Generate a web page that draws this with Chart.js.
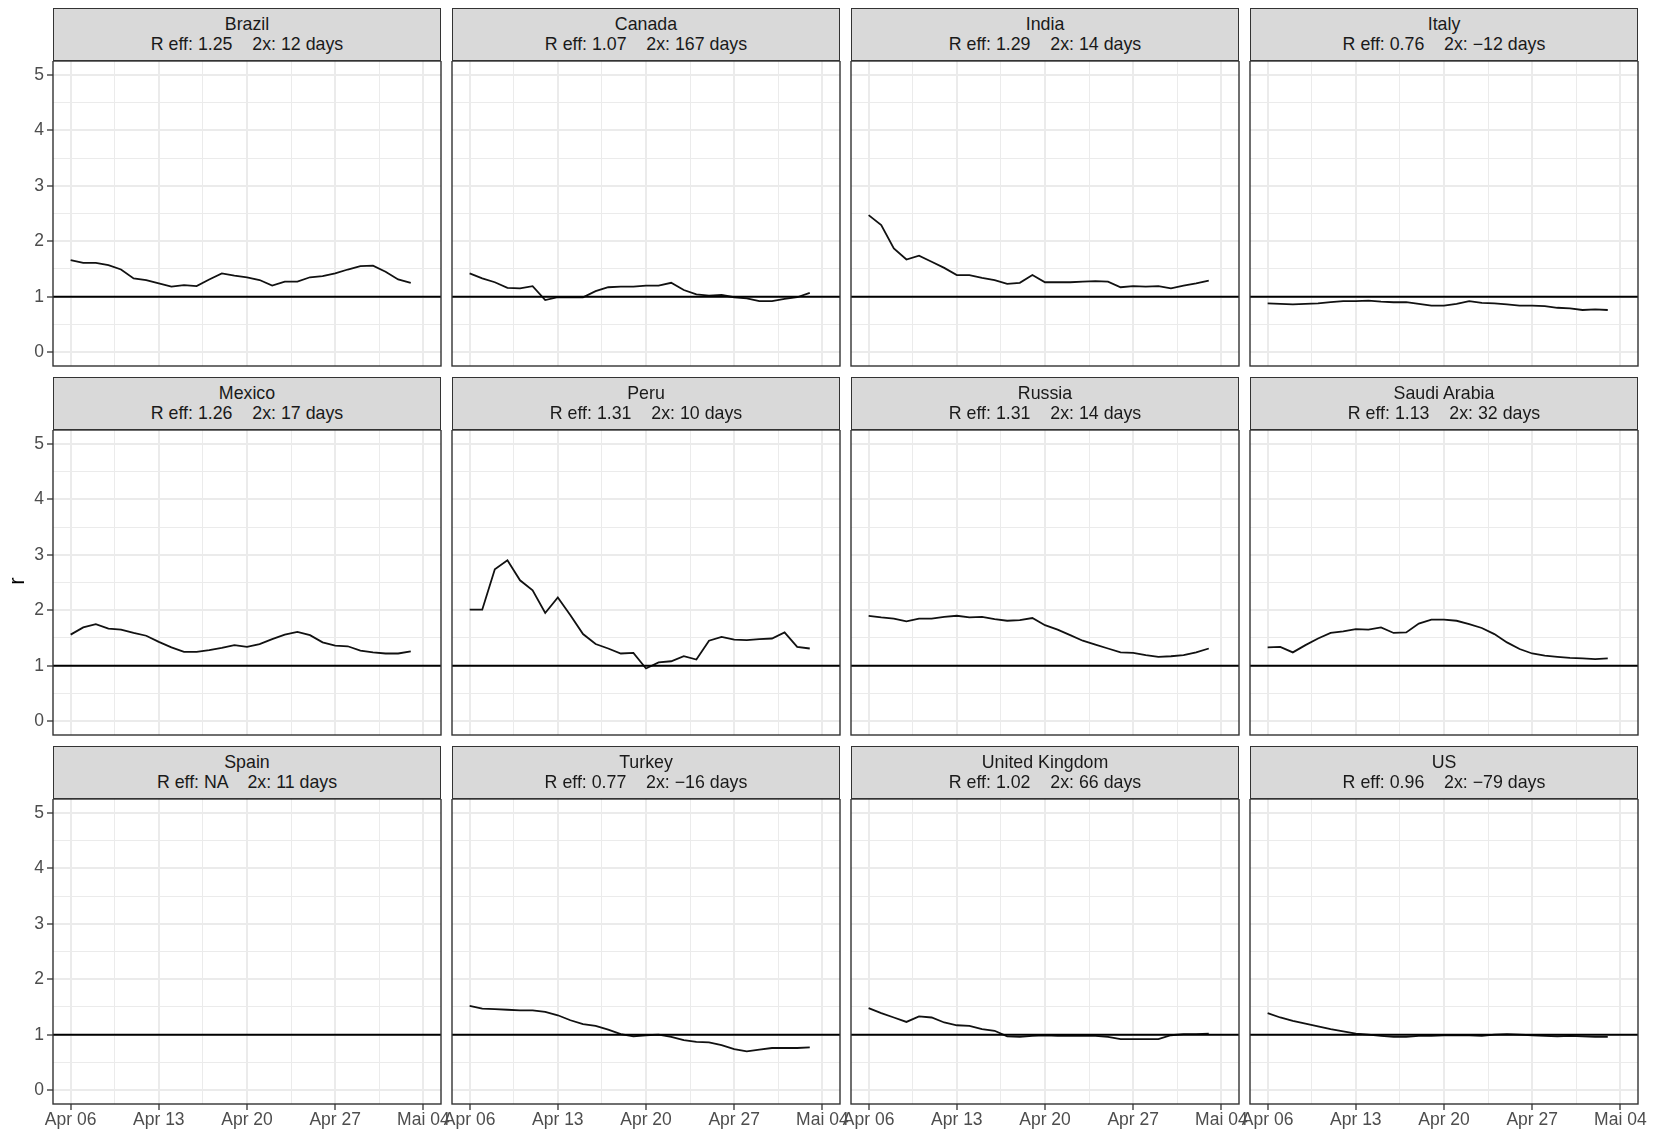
<!DOCTYPE html>
<html>
<head>
<meta charset="utf-8">
<script src="https://cdn.jsdelivr.net/npm/chart.js@4.4.1/dist/chart.umd.min.js"></script>
<style>
  html, body { margin: 0; padding: 0; background: #ffffff; }
  body { position: relative; width: 1662px; height: 1130px; overflow: hidden;
         font-family: "Liberation Sans", Arial, Helvetica, sans-serif; }
  .strip { position: absolute; box-sizing: border-box; background: #d9d9d9;
           border: 1.3px solid #333333; color: #1a1a1a; font-size: 17.8px;
           line-height: 19.4px; text-align: center; white-space: pre; z-index: 2;
           padding-top: 6.4px; }
  canvas { position: absolute; z-index: 1; }
  .ytitle { position: absolute; left: -3px; top: 566px; width: 40px; height: 30px;
            line-height: 30px; text-align: center; font-size: 22px; color: #000;
            transform: rotate(-90deg); z-index: 3; }
</style>
</head>
<body>
<div class="ytitle">r</div>
<script>
// Facet order, left to right, top to bottom
const COUNTRIES = ['Brazil', 'Canada', 'India', 'Italy',
                   'Mexico', 'Peru', 'Russia', 'Saudi Arabia',
                   'Spain', 'Turkey', 'United Kingdom', 'US'];
const R_EFF_LABELS = ['1.25', '1.07', '1.29', '0.76',
                      '1.26', '1.31', '1.31', '1.13',
                      'NA', '0.77', '1.02', '0.96'];
const DOUBLING_DAYS = ['12', '167', '14', '\u221212',
                       '17', '10', '14', '32',
                       '11', '\u221216', '66', '\u221279'];

// Daily effective reproduction number, Apr 06 .. May 03
const brazil = [1.66,1.61,1.61,1.57,1.49,1.33,1.30,1.24,1.18,1.21,1.19,1.31,1.42,1.38,1.35,1.30,1.20,1.27,1.27,1.35,1.37,1.42,1.49,1.55,1.56,1.45,1.31,1.25];
const canada = [1.42,1.33,1.26,1.16,1.15,1.19,0.94,0.99,0.99,0.99,1.10,1.17,1.18,1.18,1.20,1.20,1.25,1.12,1.04,1.02,1.03,0.99,0.97,0.92,0.92,0.96,0.99,1.07];
const india  = [2.47,2.29,1.87,1.67,1.74,1.63,1.52,1.39,1.39,1.34,1.30,1.23,1.25,1.39,1.26,1.26,1.26,1.27,1.28,1.27,1.17,1.19,1.18,1.19,1.15,1.20,1.24,1.29];
const italy  = [0.88,0.87,0.86,0.87,0.88,0.90,0.92,0.92,0.93,0.91,0.90,0.90,0.87,0.84,0.84,0.87,0.92,0.89,0.88,0.86,0.84,0.84,0.83,0.80,0.79,0.76,0.77,0.76];
const mexico = [1.56,1.69,1.75,1.67,1.65,1.59,1.54,1.43,1.33,1.25,1.25,1.28,1.32,1.37,1.34,1.39,1.48,1.56,1.61,1.55,1.42,1.36,1.35,1.27,1.24,1.22,1.22,1.26];
const peru   = [2.01,2.01,2.74,2.90,2.54,2.36,1.95,2.23,1.91,1.57,1.39,1.31,1.22,1.23,0.95,1.06,1.08,1.17,1.11,1.45,1.52,1.47,1.46,1.48,1.49,1.60,1.34,1.31];
const russia = [1.90,1.87,1.85,1.80,1.85,1.85,1.88,1.90,1.87,1.88,1.84,1.81,1.82,1.86,1.73,1.65,1.55,1.45,1.38,1.31,1.24,1.23,1.19,1.16,1.17,1.19,1.24,1.31];
const saudiArabia = [1.33,1.34,1.24,1.37,1.49,1.59,1.62,1.66,1.65,1.69,1.59,1.60,1.76,1.83,1.83,1.81,1.75,1.68,1.57,1.42,1.30,1.22,1.18,1.16,1.14,1.13,1.12,1.13];
const spain  = [];
const turkey = [1.52,1.47,1.46,1.45,1.44,1.44,1.41,1.35,1.26,1.19,1.16,1.09,1.01,0.97,0.99,1.00,0.96,0.90,0.87,0.86,0.81,0.74,0.70,0.73,0.76,0.76,0.76,0.77];
const unitedKingdom = [1.48,1.39,1.31,1.23,1.33,1.31,1.22,1.17,1.16,1.10,1.07,0.97,0.96,0.98,0.99,0.98,0.98,0.98,0.98,0.96,0.92,0.92,0.92,0.92,0.99,1.01,1.01,1.02];
const us     = [1.39,1.31,1.25,1.20,1.15,1.10,1.06,1.02,1.00,0.98,0.96,0.96,0.98,0.98,0.99,0.99,0.99,0.98,1.00,1.01,1.00,0.99,0.98,0.97,0.98,0.97,0.96,0.96];

const SERIES = [brazil, canada, india, italy, mexico, peru, russia, saudiArabia,
                spain, turkey, unitedKingdom, us];

// x axis: days since Apr 06
const X_TICK_DAYS = [0, 7, 14, 21, 28];
const X_TICK_LABELS = ['Apr 06', 'Apr 13', 'Apr 20', 'Apr 27', 'Mai 04'];
const Y_TICKS = [0, 1, 2, 3, 4, 5];
const REF_LEVEL = 1;

// Geometry of the facet grid
const COL_LEFT = [53, 452, 851, 1250];
const STRIP_TOP = [8, 377, 746];
const PANEL_W = 388, STRIP_H = 53, PANEL_H = 305;
const AXIS_W = 53, AXIS_H = 30, PAD_RIGHT = 30;

const X_MIN = -1.4, X_MAX = 29.4, Y_MIN = -0.25, Y_MAX = 5.25;
const FONT = '"Liberation Sans", Arial, Helvetica, sans-serif';

const GRID = '#ebebeb';
const xGrid = [], yGrid = [];
for (let i = 0; i < X_TICK_DAYS.length; i++) {
  xGrid.push(X_TICK_DAYS[i]);
  if (i < X_TICK_DAYS.length - 1) xGrid.push((X_TICK_DAYS[i] + X_TICK_DAYS[i + 1]) / 2);
}
for (let i = 0; i < Y_TICKS.length; i++) {
  yGrid.push(Y_TICKS[i]);
  if (i < Y_TICKS.length - 1) yGrid.push((Y_TICKS[i] + Y_TICKS[i + 1]) / 2);
}
const isMajorX = v => X_TICK_DAYS.includes(v);
const isMajorY = v => Y_TICKS.includes(v);

// Reference line at R = 1 and the panel frame
const panelDecor = {
  id: 'panelDecor',
  afterDatasetsDraw(chart) {
    const { ctx, chartArea: a, scales: { y } } = chart;
    const py = y.getPixelForValue(REF_LEVEL);
    ctx.save();
    ctx.strokeStyle = '#000000';
    ctx.lineWidth = 2;
    ctx.beginPath();
    ctx.moveTo(a.left, py);
    ctx.lineTo(a.right, py);
    ctx.stroke();
    ctx.restore();
  },
  afterDraw(chart) {
    const { ctx, chartArea: a } = chart;
    ctx.save();
    ctx.strokeStyle = '#333333';
    ctx.lineWidth = 1.4;
    ctx.strokeRect(a.left, a.top, a.right - a.left, a.bottom - a.top);
    ctx.restore();
  }
};

function makePanel(i) {
  const row = Math.floor(i / 4), col = i % 4;
  const showY = col === 0, showX = row === 2;
  const left = COL_LEFT[col], top = STRIP_TOP[row];

  const strip = document.createElement('div');
  strip.className = 'strip';
  strip.style.left = left + 'px';
  strip.style.top = top + 'px';
  strip.style.width = PANEL_W + 'px';
  strip.style.height = STRIP_H + 'px';
  strip.textContent = COUNTRIES[i] + '\n' +
    'R eff: ' + R_EFF_LABELS[i] + '    2x: ' + DOUBLING_DAYS[i] + ' days';
  document.body.appendChild(strip);

  const canvas = document.createElement('canvas');
  canvas.width = AXIS_W + PANEL_W + PAD_RIGHT;
  canvas.height = PANEL_H + AXIS_H;
  canvas.style.left = (left - AXIS_W) + 'px';
  canvas.style.top = (top + STRIP_H) + 'px';
  document.body.appendChild(canvas);

  new Chart(canvas, {
    type: 'line',
    data: {
      datasets: [{
        data: SERIES[i].map((v, k) => ({ x: k, y: v })),
        borderColor: '#111111',
        borderWidth: 1.8,
        pointRadius: 0,
        tension: 0,
        fill: false
      }]
    },
    options: {
      responsive: false,
      animation: false,
      events: [],
      devicePixelRatio: 1,
      layout: { padding: { left: 0, right: PAD_RIGHT, top: 0, bottom: 0 }, autoPadding: false },
      plugins: { legend: { display: false }, tooltip: { enabled: false }, title: { display: false } },
      scales: {
        x: {
          type: 'linear', position: 'bottom', min: X_MIN, max: X_MAX,
          afterBuildTicks: s => { s.ticks = xGrid.map(v => ({ value: v })); },
          afterFit: s => { s.height = AXIS_H; s.paddingLeft = 0; s.paddingRight = 0; },
          border: { display: false },
          grid: {
            color: GRID,
            lineWidth: c => (c.tick && isMajorX(c.tick.value)) ? 2 : 1,
            drawTicks: showX, tickLength: 6, tickWidth: 1.3,
            tickColor: c => (c.tick && isMajorX(c.tick.value)) ? '#333333' : 'rgba(0,0,0,0)'
          },
          ticks: {
            display: showX, autoSkip: false, maxRotation: 0, minRotation: 0, padding: 0,
            color: '#4d4d4d', font: { family: FONT, size: 17.5 },
            callback: v => { const k = X_TICK_DAYS.indexOf(v); return k >= 0 ? X_TICK_LABELS[k] : ''; }
          }
        },
        y: {
          type: 'linear', position: 'left', min: Y_MIN, max: Y_MAX,
          afterBuildTicks: s => { s.ticks = yGrid.map(v => ({ value: v })); },
          afterFit: s => { s.width = AXIS_W; s.paddingTop = 0; s.paddingBottom = 0; },
          border: { display: false },
          grid: {
            color: GRID,
            lineWidth: c => (c.tick && isMajorY(c.tick.value)) ? 2 : 1,
            drawTicks: showY, tickLength: 6, tickWidth: 1.3,
            tickColor: c => (c.tick && isMajorY(c.tick.value)) ? '#333333' : 'rgba(0,0,0,0)'
          },
          ticks: {
            display: showY, autoSkip: false, padding: 3,
            color: '#4d4d4d', font: { family: FONT, size: 17.5 },
            callback: v => isMajorY(v) ? String(v) : ''
          }
        }
      }
    },
    plugins: [panelDecor]
  });
}

for (let i = 0; i < COUNTRIES.length; i++) makePanel(i);
</script>
</body>
</html>
